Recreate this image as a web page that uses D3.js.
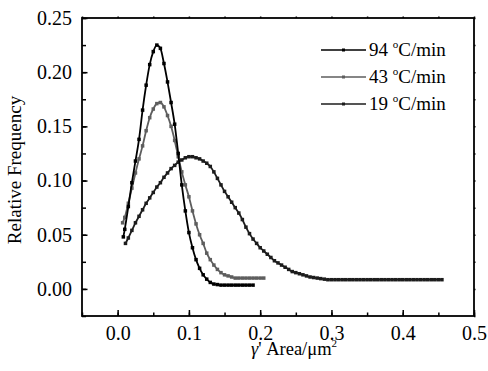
<!DOCTYPE html>
<html>
<head>
<meta charset="utf-8">
<script src="https://cdn.jsdelivr.net/npm/d3@7"></script>
<style>
  body { margin: 0; background: #fff; }
  svg text { font-family: 'Liberation Serif', 'Times New Roman', serif; }
</style>
</head>
<body>
<svg width="488" height="371"></svg>
<script>
// gamma' area (um^2) and relative frequency
var x94 = [0.008, 0.010, 0.015, 0.020, 0.025, 0.030, 0.035, 0.040, 0.045, 0.050,
  0.055, 0.060, 0.065, 0.070, 0.075, 0.080, 0.085, 0.090, 0.095, 0.100,
  0.105, 0.110, 0.115, 0.120, 0.125, 0.130, 0.135, 0.140, 0.145, 0.150,
  0.155, 0.160, 0.165, 0.170, 0.175, 0.180, 0.185, 0.190];
var y94 = [0.048, 0.055, 0.076, 0.098, 0.118, 0.138, 0.165, 0.188, 0.207, 0.219,
  0.225, 0.222, 0.208, 0.191, 0.172, 0.152, 0.125, 0.096, 0.072, 0.052,
  0.038, 0.027, 0.019, 0.013, 0.009, 0.006, 0.0045, 0.004, 0.0035, 0.0035,
  0.0035, 0.0035, 0.0035, 0.0035, 0.0035, 0.0035, 0.0035, 0.0035];

var x43 = [0.007, 0.010, 0.015, 0.020, 0.025, 0.030, 0.035, 0.040, 0.045, 0.050,
  0.055, 0.060, 0.065, 0.070, 0.075, 0.080, 0.085, 0.090, 0.095, 0.100,
  0.105, 0.110, 0.115, 0.120, 0.125, 0.130, 0.135, 0.140, 0.145, 0.150,
  0.155, 0.160, 0.165, 0.170, 0.175, 0.180, 0.185, 0.190, 0.195, 0.200, 0.205];
var y43 = [0.061, 0.066, 0.079, 0.093, 0.107, 0.120, 0.132, 0.146, 0.158, 0.166,
  0.171, 0.172, 0.168, 0.160, 0.150, 0.137, 0.122, 0.108, 0.096, 0.085,
  0.072, 0.060, 0.050, 0.042, 0.033, 0.027, 0.022, 0.018, 0.015, 0.013,
  0.012, 0.011, 0.010, 0.010, 0.010, 0.010, 0.010, 0.010, 0.010, 0.010, 0.010];

var x19 = [0.011, 0.015, 0.020, 0.025, 0.030, 0.035, 0.040, 0.045, 0.050,
  0.055, 0.060, 0.065, 0.070, 0.075, 0.080, 0.085, 0.090, 0.095, 0.100,
  0.105, 0.110, 0.115, 0.120, 0.125, 0.130, 0.135, 0.140, 0.145, 0.150,
  0.155, 0.160, 0.165, 0.170, 0.175, 0.180, 0.185, 0.190, 0.195, 0.200,
  0.205, 0.210, 0.215, 0.220, 0.225, 0.230, 0.235, 0.240, 0.245, 0.250,
  0.255, 0.260, 0.265, 0.270, 0.275, 0.280, 0.285, 0.290, 0.295, 0.300,
  0.305, 0.310, 0.315, 0.320, 0.325, 0.330, 0.335, 0.340, 0.345, 0.350,
  0.355, 0.360, 0.365, 0.370, 0.375, 0.380, 0.385, 0.390, 0.395, 0.400,
  0.405, 0.410, 0.415, 0.420, 0.425, 0.430, 0.435, 0.440, 0.445, 0.450, 0.455];
var y19 = [0.042, 0.047, 0.054, 0.061, 0.067, 0.073, 0.079, 0.084, 0.089,
  0.094, 0.098, 0.103, 0.107, 0.111, 0.114, 0.117, 0.119, 0.121, 0.122,
  0.122, 0.121, 0.120, 0.118, 0.116, 0.113, 0.108, 0.102, 0.096, 0.090,
  0.085, 0.080, 0.075, 0.070, 0.064, 0.057, 0.051, 0.046, 0.042, 0.038,
  0.035, 0.032, 0.029, 0.026, 0.024, 0.022, 0.020, 0.018, 0.016, 0.015,
  0.014, 0.013, 0.012, 0.011, 0.0105, 0.010, 0.0095, 0.009, 0.0085, 0.0085,
  0.0085, 0.0085, 0.0085, 0.0085, 0.0085, 0.0085, 0.0085, 0.0085, 0.0085, 0.0085,
  0.0085, 0.0085, 0.0085, 0.0085, 0.0085, 0.0085, 0.0085, 0.0085, 0.0085, 0.0085,
  0.0085, 0.0085, 0.0085, 0.0085, 0.0085, 0.0085, 0.0085, 0.0085, 0.0085, 0.0085, 0.0085];

var seriesNames = ['94', '43', '19'];
var seriesColors = ['#000000', '#5e5e5e', '#1c1c1c'];
var xTicks = [0.0, 0.1, 0.2, 0.3, 0.4, 0.5];
var yTicks = [0.00, 0.05, 0.10, 0.15, 0.20, 0.25];

var serif = 'Liberation Serif';
var svg = d3.select('svg');
var margin = {top: 18, right: 14, bottom: 55, left: 82};
var width = svg.attr('width') - margin.left - margin.right;
var height = svg.attr('height') - margin.top - margin.bottom;
var g = svg
  .append('g')
  .attr('transform', 'translate(' + margin.left + ',' + margin.top + ')');

var x = d3.scaleLinear().domain([-0.05, 0.5]).range([0, width]);
var y = d3.scaleLinear().domain([-0.025, 0.25]).range([height, 0]);

var series = [
  {name: seriesNames[0], color: seriesColors[0], pts: d3.zip(x94, y94)},
  {name: seriesNames[1], color: seriesColors[1], pts: d3.zip(x43, y43)},
  {name: seriesNames[2], color: seriesColors[2], pts: d3.zip(x19, y19)}
];

var line = d3
  .line()
  .curve(d3.curveMonotoneX)
  .x(function(d) { return x(d[0]); })
  .y(function(d) { return y(d[1]); });

// draw back to front so 94 sits on top
series.slice().reverse().forEach(function(s) {
  var sg = g.append('g');
  sg.append('path')
    .datum(s.pts)
    .attr('d', line)
    .attr('fill', 'none')
    .attr('stroke', s.color)
    .attr('stroke-width', 1.8);
  sg.selectAll('rect')
    .data(s.pts)
    .enter()
    .append('rect')
    .attr('x', function(d) { return x(d[0]) - 1.75; })
    .attr('y', function(d) { return y(d[1]) - 1.75; })
    .attr('width', 3.5)
    .attr('height', 3.5)
    .attr('fill', s.color);
});

// axes: major ticks inward on left/bottom, minor in between
var minorX = d3.range(-0.05, 0.501, 0.05);
var minorY = d3.range(-0.025, 0.2501, 0.025);

var xAxis = g.append('g').attr('transform', 'translate(0,' + height + ')');
xAxis.call(d3.axisBottom(x).tickValues(minorX).tickSize(-3.5).tickFormat(''));
xAxis.append('g')
  .call(d3.axisBottom(x).tickValues(xTicks).tickSize(-6).tickPadding(10)
    .tickFormat(d3.format('.1f')));

var yAxis = g.append('g');
yAxis.call(d3.axisLeft(y).tickValues(minorY).tickSize(-4).tickFormat(''));
yAxis.append('g')
  .call(d3.axisLeft(y).tickValues(yTicks).tickSize(-5.5).tickPadding(10)
    .tickFormat(d3.format('.2f')));

var topAxis = g.append('g');
topAxis.call(d3.axisTop(x).tickValues(minorX).tickSize(1.5).tickFormat(''));
var rightAxis = g.append('g').attr('transform', 'translate(' + width + ',0)');
rightAxis.call(d3.axisRight(y).tickValues(minorY).tickSize(1.5).tickFormat(''));

g.selectAll('.domain').remove();
g.selectAll('.tick line').attr('stroke', '#000').attr('stroke-width', 1.5);
g.selectAll('.tick text')
  .attr('font-family', serif)
  .attr('font-size', 20)
  .attr('fill', '#000');

g.append('rect')
  .attr('width', width)
  .attr('height', height)
  .attr('fill', 'none')
  .attr('stroke', '#000')
  .attr('stroke-width', 1.8);

// axis titles
svg.append('text')
  .attr('transform', 'translate(21,' + (margin.top + height / 2 + 3) + ') rotate(-90)')
  .attr('text-anchor', 'middle')
  .attr('font-family', serif)
  .attr('font-size', 19)
  .text('Relative Frequency');

var xt = svg.append('text')
  .attr('x', 294)
  .attr('y', 355)
  .attr('text-anchor', 'middle')
  .attr('font-family', serif)
  .attr('font-size', 18.5);
xt.append('tspan').attr('font-style', 'italic').text('\u03b3');
xt.append('tspan').text("' Area/\u03bcm");
xt.append('tspan').attr('font-size', 11).attr('dy', -8).text('2');

// legend
var legend = g.append('g').attr('transform', 'translate(239,32)');
series.forEach(function(s, i) {
  var row = legend.append('g').attr('transform', 'translate(0,' + i * 27 + ')');
  row.append('line')
    .attr('x1', 0).attr('x2', 45)
    .attr('stroke', s.color)
    .attr('stroke-width', 1.6);
  row.append('rect')
    .attr('x', 21).attr('y', -1.5)
    .attr('width', 3).attr('height', 3)
    .attr('fill', s.color);
  var t = row.append('text')
    .attr('x', 48)
    .attr('y', 6)
    .attr('font-family', serif)
    .attr('font-size', 19);
  t.append('tspan').text(s.name + ' ');
  t.append('tspan').attr('font-size', 11).attr('dy', -8).text('o');
  t.append('tspan').attr('dy', 8).text('C/min');
});
</script>
</body>
</html>
